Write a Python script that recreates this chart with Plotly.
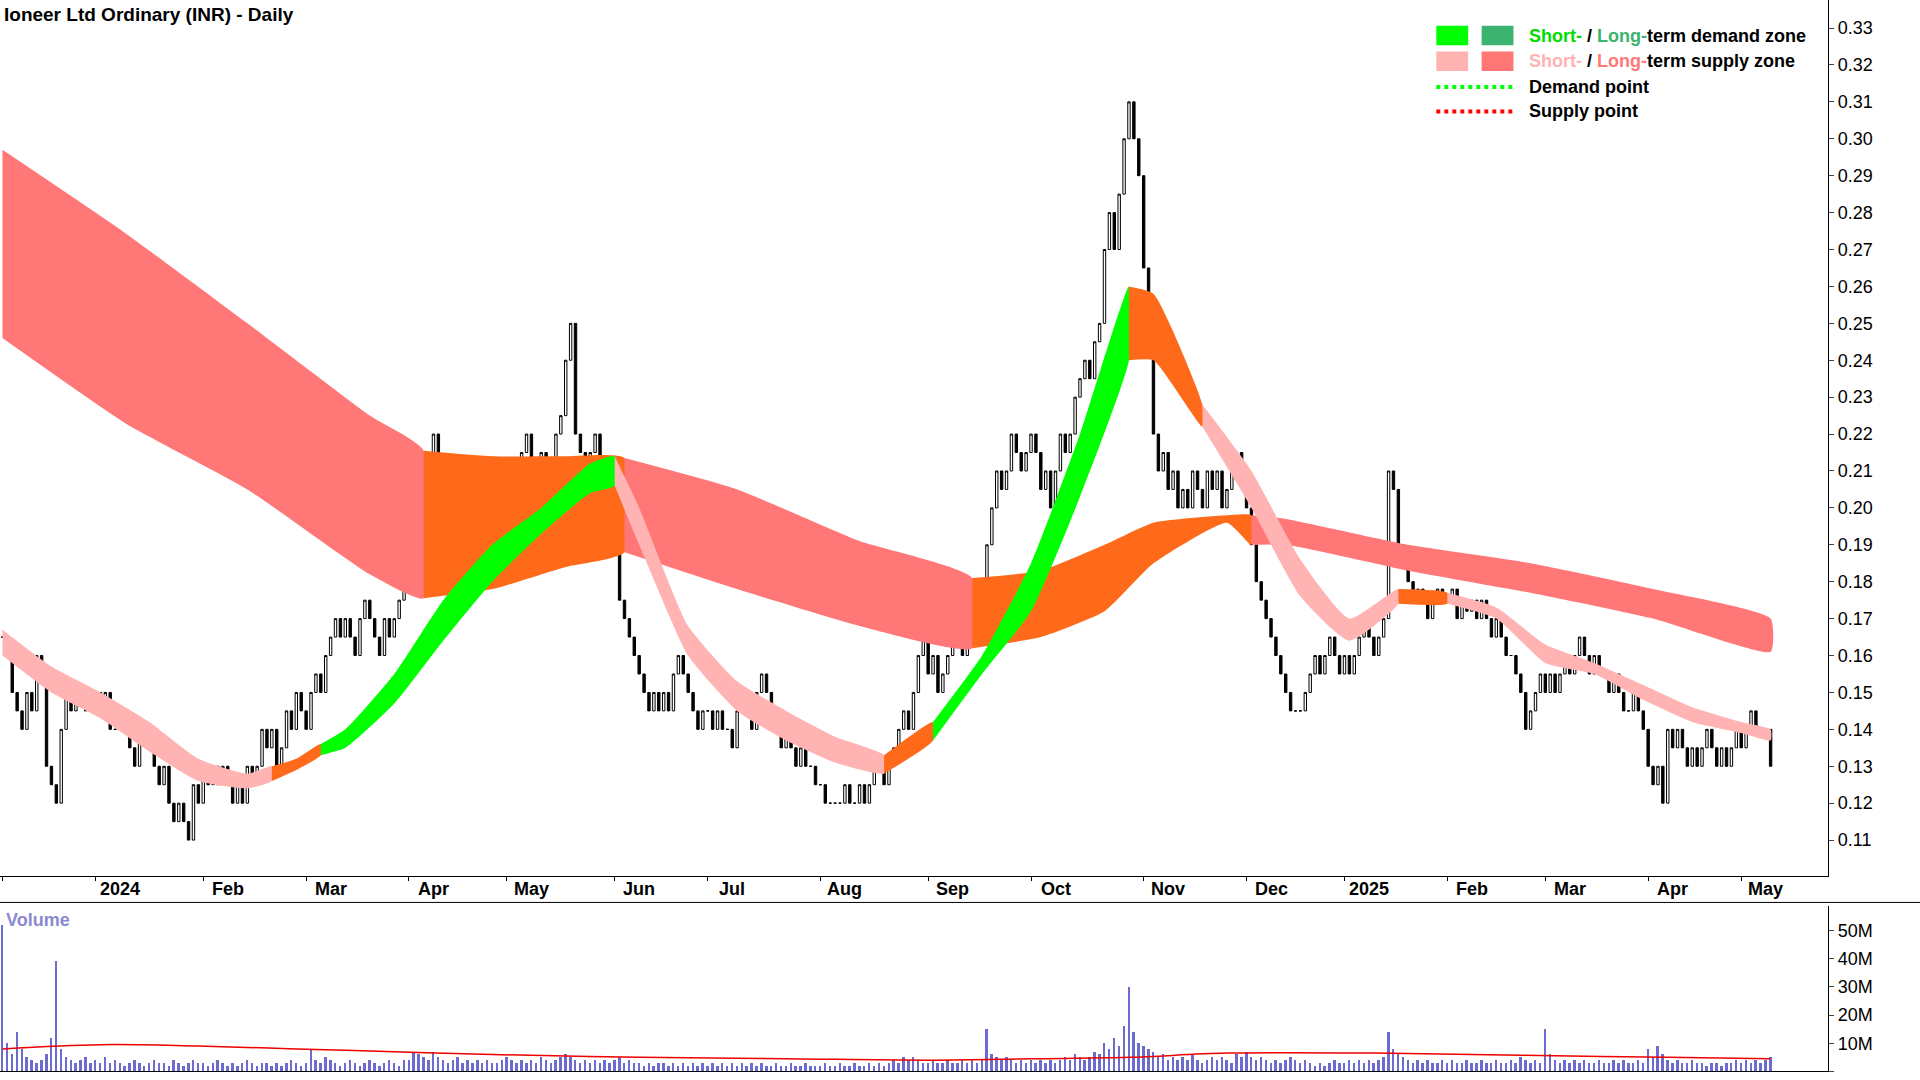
import numpy as np
import plotly.graph_objects as go
from plotly.subplots import make_subplots

W, H = 1568.0, 882.0
def px(x): return x / W
def py(y): return 1 - y / H

months = ["Dec", "2024", "Feb", "Mar", "Apr", "May", "Jun", "Jul", "Aug", "Sep", "Oct", "Nov", "Dec",
          "2025", "Feb", "Mar", "Apr", "May"]
close_by_month = [
 [0.165,0.16,0.15,0.145,0.14,0.15,0.145,0.16,0.155,0.13,0.125,0.12,0.14,0.15,0.145,0.15,0.15,0.145,0.15],
 [0.15,0.145,0.15,0.14,0.14,0.145,0.14,0.135,0.13,0.14,0.14,0.135,0.13,0.125,0.13,0.12,0.115,0.12,0.115,0.11,0.125,0.12],
 [0.13,0.125,0.13,0.125,0.13,0.125,0.12,0.125,0.12,0.13,0.125,0.13,0.14,0.135,0.14,0.13,0.135,0.145,0.14,0.15,0.145],
 [0.14,0.15,0.155,0.15,0.16,0.165,0.17,0.165,0.17,0.165,0.16,0.17,0.175,0.17,0.165,0.16,0.17,0.165,0.17,0.175,0.18],
 [0.185,0.2,0.21,0.205,0.195,0.22,0.21,0.2,0.19,0.205,0.195,0.19,0.2,0.185,0.19,0.2,0.205,0.2,0.195,0.2],
 [0.21,0.2,0.21,0.215,0.22,0.205,0.21,0.215,0.21,0.2,0.22,0.225,0.24,0.25,0.22,0.215,0.21,0.215,0.22,0.21,0.205,0.2],
 [0.19,0.175,0.17,0.165,0.16,0.155,0.15,0.145,0.15,0.145,0.15,0.145,0.155,0.16,0.155,0.15,0.145,0.14,0.145],
 [0.145,0.14,0.145,0.14,0.14,0.135,0.145,0.15,0.145,0.14,0.15,0.155,0.15,0.145,0.14,0.135,0.14,0.135,0.13,0.135,0.13,0.13,0.125],
 [0.125,0.12,0.12,0.12,0.12,0.125,0.12,0.12,0.125,0.12,0.125,0.13,0.13,0.125,0.13,0.135,0.14,0.145,0.14,0.15,0.16,0.165],
 [0.155,0.16,0.15,0.155,0.16,0.17,0.165,0.16,0.165,0.17,0.165,0.17,0.19,0.2,0.21,0.205,0.21,0.22,0.215,0.21,0.215],
 [0.22,0.215,0.205,0.21,0.2,0.21,0.22,0.215,0.22,0.23,0.235,0.24,0.235,0.245,0.25,0.27,0.28,0.27,0.285,0.3,0.31,0.3,0.29],
 [0.265,0.245,0.22,0.21,0.215,0.205,0.21,0.2,0.205,0.2,0.21,0.205,0.2,0.21,0.205,0.21,0.2,0.205,0.21,0.215,0.21],
 [0.2,0.19,0.18,0.175,0.17,0.165,0.16,0.155,0.15,0.145,0.145,0.145,0.15,0.155,0.16,0.155,0.16,0.165,0.16,0.155],
 [0.16,0.155,0.16,0.165,0.17,0.165,0.16,0.165,0.17,0.21,0.205,0.19,0.185,0.18,0.175,0.178,0.175,0.17,0.175,0.178,0.175],
 [0.175,0.178,0.17,0.175,0.172,0.175,0.17,0.175,0.17,0.165,0.17,0.165,0.16,0.16,0.155,0.15,0.14,0.145,0.15,0.155],
 [0.15,0.155,0.15,0.155,0.16,0.155,0.16,0.165,0.16,0.155,0.16,0.155,0.155,0.15,0.155,0.15,0.145,0.145,0.15,0.145,0.14],
 [0.13,0.125,0.13,0.12,0.14,0.135,0.14,0.135,0.13,0.135,0.13,0.135,0.14,0.135,0.13,0.135,0.13,0.135,0.14],
 [0.135,0.14,0.145,0.14,0.14,0.14,0.13],
]
volume_by_month = [
 [52,10,6,14,8,5,4,3,4,6,12,39,8,5,4,3,4,5,3],
 [4,3,5,3,4,3,2,3,4,3,2,3,4,3,3,2,4,3,2,3,4,3],
 [3,2,3,4,3,2,3,2,3,4,3,2,3,3,2,3,2,3,4,3,2],
 [3,8,4,3,5,4,3,2,3,4,3,2,3,4,3,2,3,4,3,2,4],
 [4,7,6,5,4,7,5,4,3,4,5,3,4,3,4,3,4,3,3,4],
 [5,4,3,4,3,4,3,5,4,3,4,5,6,5,4,3,4,3,4,3,4,3],
 [4,5,3,4,3,3,2,3,2,3,3,2,3,2,3,2,3,2,3],
 [2,3,2,3,2,3,2,3,2,3,2,3,2,2,3,2,2,3,2,2,3,2,2],
 [2,3,2,2,3,2,2,3,2,2,3,2,3,2,3,4,3,5,4,5,4,3],
 [3,4,3,3,4,3,3,4,3,4,3,4,15,6,5,4,5,4,3,4,3],
 [4,3,4,3,4,3,4,5,4,6,5,4,5,7,6,10,8,12,9,16,30,14,10],
 [9,8,7,5,6,4,5,4,5,4,6,4,3,4,5,4,5,4,3,6,5],
 [7,5,4,5,4,3,4,3,4,5,4,3,4,3,2,3,2,3,4,3],
 [3,4,3,4,3,4,3,4,5,14,8,6,5,4,3,4,3,4,3,3,4],
 [3,4,3,3,4,3,3,4,3,3,4,3,3,4,3,5,4,3,4,3],
 [15,6,4,3,4,3,4,3,4,3,3,4,3,3,4,3,4,3,3,4,3],
 [8,5,9,6,4,3,4,3,3,4,3,3,2,3,3,2,3,3,4],
 [3,4,3,4,3,4,5],
]
st_idx = [0,10,20,30,40,50,55,60,65,70,80,90,100,110,120,125,130,140,150,160,170,180,190,200,210,220,230,235,245,255,265,275,285,295,305,315,325,335,345,355,361]
st_up  = [0.167,0.157,0.15,0.142,0.132,0.128,0.13,0.132,0.136,0.14,0.155,0.175,0.19,0.2,0.212,0.214,0.2,0.168,0.153,0.145,0.138,0.133,0.142,0.16,0.185,0.22,0.26,0.258,0.228,0.21,0.186,0.17,0.178,0.177,0.173,0.163,0.158,0.152,0.146,0.142,0.14]
st_lo  = [0.16,0.15,0.143,0.134,0.126,0.124,0.126,0.129,0.133,0.135,0.147,0.164,0.18,0.193,0.204,0.206,0.19,0.16,0.145,0.137,0.131,0.128,0.137,0.155,0.172,0.203,0.24,0.24,0.222,0.2,0.176,0.164,0.174,0.174,0.17,0.158,0.155,0.148,0.142,0.139,0.137]
st_segments = [(0,55,"#ffb3b3"),(55,65,"#ff6a1a"),(65,125,"#00ff00"),(125,180,"#ffb3b3"),(180,190,"#ff6a1a"),
               (190,230,"#00ff00"),(230,245,"#ff6a1a"),(245,285,"#ffb3b3"),(285,295,"#ff6a1a"),(295,361,"#ffb3b3")]
lt_idx = [0,25,50,75,86,100,115,127,150,175,198,212,225,235,250,255,262,287,312,337,361]
lt_up  = [0.297,0.2745,0.25,0.225,0.2155,0.214,0.214,0.2135,0.205,0.191,0.181,0.183,0.19,0.196,0.198,0.198,0.197,0.19,0.185,0.178,0.17]
lt_lo  = [0.246,0.223,0.205,0.182,0.1755,0.178,0.184,0.188,0.178,0.168,0.162,0.165,0.172,0.185,0.196,0.19,0.19,0.183,0.177,0.17,0.161]
lt_segments = [(0,86,"#ff7777"),(86,127,"#ff6a1a"),(127,198,"#ff7777"),(198,255,"#ff6a1a"),(255,361,"#ff7777")]
vma_idx = [0,20,40,60,80,100,130,160,190,210,230,250,280,300,320,340,361]
vma_val = [8,9.5,9,8,7,6,5,4.5,4,4.5,5,6.5,6.5,6,5.5,5,4.5]

close = np.array([c for m in close_by_month for c in m])
vol = np.array([v for m in volume_by_month for v in m]) * 1e6
n = len(close)
idx = np.arange(n)
opn = np.concatenate([[close[0]], close[:-1]])
hi = np.maximum(opn, close); lo = np.minimum(opn, close)
starts = np.cumsum([0] + [len(m) for m in close_by_month])[:-1]

fig = make_subplots(rows=2, cols=1, shared_xaxes=False)

def band(ix, up, lw, segs):
    ix = list(ix)
    for a, b, col in segs:
        i0, i1 = ix.index(a), ix.index(b)
        xs = ix[i0:i1+1]; u = up[i0:i1+1]; l = lw[i0:i1+1]
        fig.add_trace(go.Scatter(x=xs + xs[::-1], y=u + l[::-1], fill="toself", fillcolor=col,
                                 mode="lines", line=dict(width=0, color=col, shape="spline", smoothing=0.5),
                                 hoverinfo="skip", showlegend=False), row=1, col=1)

band(lt_idx, lt_up, lt_lo, lt_segments)
band(st_idx, st_up, st_lo, st_segments)

fig.add_trace(go.Candlestick(x=idx, open=opn, high=hi, low=lo, close=close,
    increasing=dict(line=dict(color="black", width=1), fillcolor="white"),
    decreasing=dict(line=dict(color="black", width=1), fillcolor="black"),
    whiskerwidth=0, showlegend=False), row=1, col=1)

fig.add_trace(go.Bar(x=idx, y=vol, marker=dict(color="#6b6bd0", line=dict(width=0)), width=0.4,
                     showlegend=False), row=2, col=1)
fig.add_trace(go.Scatter(x=vma_idx, y=np.array(vma_val) * 1e6, mode="lines", line=dict(color="#ee0000", width=1.5, shape="spline"),
                         showlegend=False), row=2, col=1)

xr = [-0.5, 1493 / 4.0 * (n / 362.0) - 0.5]
fnt = dict(family="Liberation Sans, Arial", size=18, color="black")
fig.update_layout(width=1920, height=1080, margin=dict(l=0, r=0, t=0, b=0), plot_bgcolor="white",
                  paper_bgcolor="white", font=fnt, showlegend=False, bargap=0)
fig.update_xaxes(range=xr, showgrid=False, zeroline=False, showticklabels=False, showline=True,
                 linecolor="black", mirror=False, rangeslider=dict(visible=False))
fig.update_layout(
    xaxis=dict(domain=[0, px(1493)], anchor="y", ticks="outside", tickvals=list(starts), ticklen=4, tickcolor="black"),
    xaxis2=dict(domain=[0, px(1493)], anchor="y2", matches="x"),
    yaxis=dict(domain=[py(715), 1], range=[0.1004, 0.3376], side="right", tickvals=[round(0.11 + 0.01*k, 2) for k in range(23)],
               tickformat=".2f", showgrid=False, zeroline=False, showline=True, linecolor="black",
               ticks="outside", ticklen=5, tickfont=dict(family="Liberation Sans", size=18, color="black")),
    yaxis2=dict(domain=[1 - 875 / H, py(740)], range=[0, 58.7e6], side="right",
                tickvals=[0, 10e6, 20e6, 30e6, 40e6, 50e6], ticktext=["0", "10M", "20M", "30M", "40M", "50M"],
                showgrid=False, zeroline=False, showline=True, linecolor="black", ticks="outside", ticklen=5,
                tickfont=dict(family="Liberation Sans", size=18, color="black")),
)
ann = []
for s, m in zip(starts, months):
    if s == 0:
        continue
    ann.append(dict(x=s + 5, y=py(726), xref="x", yref="paper", yanchor="middle", text="<b>%s</b>" % m, showarrow=False,
                    font=dict(family="Liberation Sans", size=18, color="black")))
ann.append(dict(x=px(2), y=py(12), xref="paper", yref="paper", xanchor="left", yanchor="middle",
                text="<b>Ioneer Ltd Ordinary (INR) - Daily</b>",
                showarrow=False, font=dict(family="Liberation Sans", size=19, color="black")))
ann.append(dict(x=px(3), y=py(751), xref="paper", yref="paper", xanchor="left", yanchor="middle", text="<b>Volume</b>",
                showarrow=False, font=dict(family="Liberation Sans", size=18, color="#8a8ad0")))
leg = [
    (29, "<span style='color:#00dd00'>Short-</span> / <span style='color:#3cb371'>Long-</span>term demand zone"),
    (50, "<span style='color:#ffb3b3'>Short-</span> / <span style='color:#ff7777'>Long-</span>term supply zone"),
    (71, "Demand point"), (91, "Supply point")]
for y, t in leg:
    ann.append(dict(x=px(1247), y=py(y), xref="paper", yref="paper", xanchor="left", yanchor="middle", text="<b>%s</b>" % t,
                    showarrow=False, font=dict(family="Liberation Sans", size=18, color="black")))
fig.update_layout(annotations=ann)
shapes = [
    dict(type="rect", xref="paper", yref="paper", x0=px(1173), x1=px(1199), y0=py(37), y1=py(21), fillcolor="#00ff00", line=dict(width=0)),
    dict(type="rect", xref="paper", yref="paper", x0=px(1210), x1=px(1236), y0=py(37), y1=py(21), fillcolor="#3cb371", line=dict(width=0)),
    dict(type="rect", xref="paper", yref="paper", x0=px(1173), x1=px(1199), y0=py(58), y1=py(42), fillcolor="#ffb3b3", line=dict(width=0)),
    dict(type="rect", xref="paper", yref="paper", x0=px(1210), x1=px(1236), y0=py(58), y1=py(42), fillcolor="#ff7777", line=dict(width=0)),
    dict(type="line", xref="paper", yref="paper", x0=px(1173), x1=px(1237), y0=py(71), y1=py(71), line=dict(color="#00ff00", width=4, dash="dot")),
    dict(type="line", xref="paper", yref="paper", x0=px(1173), x1=px(1237), y0=py(91), y1=py(91), line=dict(color="#ff0000", width=4, dash="dot")),
    dict(type="line", xref="paper", yref="paper", x0=0, x1=1, y0=py(737), y1=py(737), line=dict(color="black", width=1)),
]
fig.update_layout(shapes=shapes)
fig.write_html("out.html", config={"displayModeBar": False},
               post_script="document.body.style.margin='0';document.body.style.overflow='hidden';window.dispatchEvent(new Event('resize'));")
